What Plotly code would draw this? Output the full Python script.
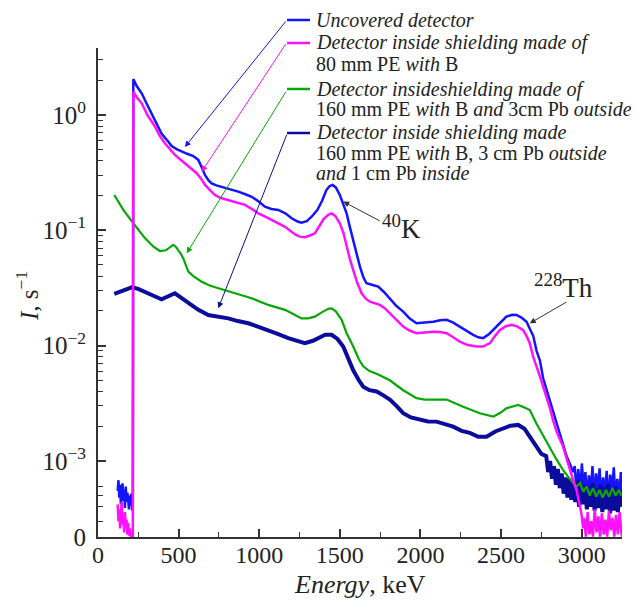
import plotly.graph_objects as go

# ---------------- data ----------------
blue_E = [122, 127, 132, 137, 142, 147, 152, 157, 162, 167, 172, 177, 182, 187, 192, 197, 202, 207, 212, 216,
          219, 240, 271, 306, 354, 394, 430, 457, 487, 519, 553, 591, 622, 644, 664, 686, 705, 734, 767, 819, 870,
          914, 953, 995, 1035, 1076, 1118, 1162, 1201, 1238, 1262, 1295, 1325, 1361, 1390, 1417, 1437, 1455, 1475,
          1500, 1523, 1542, 1561, 1583, 1604, 1625, 1646, 1665, 1703, 1738, 1775, 1810, 1851, 1893, 1932, 1975,
          2027, 2079, 2122, 2162, 2203, 2244, 2283, 2327, 2359, 2389, 2426, 2472, 2502, 2533, 2569, 2596, 2626,
          2658, 2678, 2699, 2720, 2741, 2761, 2781, 2802, 2823, 2844, 2864, 2885, 2906, 2926, 2947,
          2957, 2968, 2979, 2990, 3001, 3012, 3023, 3034, 3045, 3056, 3067, 3078, 3089, 3100, 3111, 3122, 3133,
          3144, 3155, 3166, 3177, 3188, 3199, 3210, 3221, 3232, 3243, 3250]
blue_I = [5.5e-4, 6.8e-4, 4.8e-4, 6.2e-4, 4.2e-4, 5.8e-4, 6.4e-4, 4.5e-4, 5.6e-4, 3.9e-4, 6.0e-4, 4.4e-4, 5.3e-4,
          4.7e-4, 3.8e-4, 5.0e-4, 4.1e-4, 5.2e-4, 3.7e-4, 4.3e-4,
          2.04, 1.78, 1.54, 1.22, 0.905, 0.69, 0.60, 0.538, 0.505, 0.48, 0.46, 0.44, 0.407, 0.35, 0.30, 0.27, 0.255,
          0.245, 0.238, 0.227, 0.216, 0.205, 0.195, 0.178, 0.160, 0.153, 0.150, 0.140, 0.127, 0.119, 0.116, 0.120,
          0.131, 0.150, 0.180, 0.224, 0.242, 0.247, 0.235, 0.202, 0.168, 0.140, 0.108, 0.082, 0.062, 0.048, 0.039,
          0.0347, 0.0335, 0.0324, 0.029, 0.0257, 0.022, 0.0197, 0.0172, 0.0156, 0.0158, 0.0161, 0.0166, 0.0167,
          0.0158, 0.0146, 0.0134, 0.0124, 0.0118, 0.0116, 0.0126, 0.0146, 0.0162, 0.0178, 0.0185, 0.0184, 0.0175,
          0.0161, 0.0140, 0.0122, 0.0090, 0.0074, 0.0052, 0.0042, 0.0034, 0.0027, 0.0021, 0.0017, 0.00135, 0.0011,
          9.5e-4, 8.0e-4,
          9.0e-4, 5.5e-4, 8.5e-4, 5.0e-4, 9.5e-4, 5.8e-4, 8.0e-4, 4.8e-4, 7.5e-4, 5.3e-4, 9.0e-4, 4.6e-4, 7.8e-4,
          5.6e-4, 8.6e-4, 4.5e-4, 7.2e-4, 5.0e-4, 8.2e-4, 4.4e-4, 7.6e-4, 5.4e-4, 8.8e-4, 4.6e-4, 7.0e-4, 4.9e-4,
          8.0e-4, 5.2e-4]

mag_E = [122, 127, 132, 137, 142, 147, 152, 157, 162, 167, 172, 177, 182, 187, 192, 197, 202, 207, 212, 216,
         219, 240, 271, 306, 354, 382, 415, 449, 477, 520, 560, 591, 612, 639, 664, 696, 725, 762, 808, 857, 912,
         953, 994, 1038, 1077, 1119, 1160, 1200, 1228, 1252, 1285, 1314, 1345, 1377, 1399, 1428, 1449, 1471, 1500,
         1523, 1542, 1561, 1583, 1608, 1635, 1661, 1686, 1713, 1748, 1780, 1810, 1851, 1893, 1932, 1975, 2027,
         2079, 2122, 2162, 2203, 2244, 2293, 2348, 2388, 2431, 2464, 2492, 2530, 2565, 2602, 2637, 2659, 2678,
         2699, 2721, 2741, 2761, 2781, 2802, 2822, 2844, 2864, 2885, 2906, 2926, 2947, 2968, 2983, 2998, 3009,
         3015, 3026, 3037, 3048, 3059, 3070, 3081, 3092, 3103, 3114, 3125, 3136, 3147, 3158, 3169, 3180, 3191,
         3202, 3213, 3224, 3235, 3246, 3250]
mag_I = [4.2e-4, 3.0e-4, 3.8e-4, 2.6e-4, 3.5e-4, 4.4e-4, 2.8e-4, 3.3e-4, 2.4e-4, 3.6e-4, 2.7e-4, 3.1e-4, 2.3e-4,
         2.9e-4, 2.25e-4, 2.6e-4, 2.2e-4, 2.4e-4, 2.2e-4, 2.2e-4,
         1.59, 1.42, 1.26, 1.00, 0.79, 0.66, 0.568, 0.50, 0.45, 0.40, 0.356, 0.33, 0.312, 0.28, 0.247, 0.222, 0.202,
         0.19, 0.183, 0.175, 0.166, 0.153, 0.140, 0.131, 0.123, 0.115, 0.107, 0.097, 0.091, 0.088, 0.087, 0.090,
         0.094, 0.111, 0.125, 0.136, 0.140, 0.133, 0.115, 0.094, 0.072, 0.057, 0.045, 0.035, 0.0284, 0.0255, 0.024,
         0.0232, 0.0225, 0.021, 0.019, 0.0165, 0.0146, 0.0135, 0.0128, 0.0130, 0.0132, 0.0131, 0.0128, 0.0118,
         0.0108, 0.0101, 0.0098, 0.0098, 0.0105, 0.0122, 0.0136, 0.0147, 0.0151, 0.0146, 0.0136, 0.0120, 0.0105,
         0.0080, 0.0066, 0.0054, 0.0044, 0.0036, 0.0029, 0.00226, 0.0018, 0.00155, 0.00133, 0.00105, 8.3e-4,
         6.8e-4, 5.6e-4, 4.5e-4, 3.5e-4, 2.6e-4,
         3.2e-4, 2.2e-4, 3.6e-4, 2.3e-4, 3.0e-4, 2.2e-4, 3.8e-4, 2.4e-4, 3.3e-4, 2.2e-4, 3.5e-4, 2.3e-4, 3.1e-4,
         2.2e-4, 3.7e-4, 2.5e-4, 3.2e-4, 2.2e-4, 3.4e-4, 2.3e-4, 3.6e-4, 2.4e-4, 2.2e-4]

green_E = [101, 157, 219, 292, 344, 384, 420, 449, 467, 482, 498, 515, 529, 544, 560, 591, 643, 696, 746, 800,
           850, 953, 1056, 1160, 1219, 1262, 1304, 1345, 1390, 1428, 1449, 1475, 1511, 1542, 1583, 1618, 1645,
           1684, 1728, 1810, 1893, 1975, 2027, 2079, 2162, 2265, 2368, 2451, 2493, 2533, 2606, 2645, 2678, 2720,
           2741, 2770, 2802, 2840, 2885, 2925, 2968, 2990, 3010, 3030, 3050, 3070, 3090, 3110, 3130, 3150, 3170,
           3190, 3210, 3230, 3245]
green_I = [0.202, 0.150, 0.115, 0.085, 0.072, 0.066, 0.067, 0.072, 0.0746, 0.072, 0.0675, 0.062, 0.057, 0.050,
           0.0437, 0.040, 0.0358, 0.033, 0.0314, 0.030, 0.0284, 0.0257, 0.0225, 0.0204, 0.0185, 0.0172, 0.0172,
           0.0178, 0.0195, 0.0208, 0.021, 0.0198, 0.0167, 0.0128, 0.0098, 0.0076, 0.0066, 0.0060, 0.0057, 0.0050,
           0.0041, 0.0035, 0.0034, 0.0034, 0.0034, 0.00295, 0.00259, 0.00242, 0.0026, 0.00286, 0.00305, 0.0029,
           0.00276, 0.0021, 0.00186, 0.0016, 0.0013, 0.00105, 8.3e-4, 7.0e-4, 6.0e-4, 6.4e-4, 5.4e-4, 6.0e-4,
           5.0e-4, 5.8e-4, 4.9e-4, 5.6e-4, 4.8e-4, 5.6e-4, 4.9e-4, 5.8e-4, 5.0e-4, 5.6e-4, 5.0e-4]

navy_E = [101, 154, 209, 249, 292, 344, 394, 430, 477, 515, 560, 620, 684, 743, 808, 867, 932, 991, 1056, 1114,
          1180, 1238, 1283, 1333, 1377, 1409, 1449, 1485, 1521, 1551, 1583, 1618, 1645, 1684, 1728, 1770, 1810,
          1851, 1893, 1941, 1996, 2046, 2100, 2150, 2203, 2255, 2306, 2359, 2410, 2464, 2512, 2559, 2606, 2645,
          2678, 2720, 2750,
          2780, 2792, 2804, 2816, 2828, 2840, 2852, 2864, 2876, 2888, 2900, 2912, 2924, 2936, 2948, 2960, 2972,
          2984, 2996, 3008, 3020, 3032, 3044, 3056, 3068, 3080, 3092, 3104, 3116, 3128, 3140, 3152, 3164, 3176,
          3188, 3200, 3212, 3224, 3236, 3248]
navy_I = [0.028, 0.030, 0.032, 0.031, 0.0294, 0.027, 0.0252, 0.0265, 0.0284, 0.026, 0.0233, 0.0205, 0.0184,
          0.0178, 0.0172, 0.0163, 0.0156, 0.0146, 0.0136, 0.0126, 0.0116, 0.0109, 0.0105, 0.0110, 0.0118, 0.0124,
          0.0124, 0.0114, 0.0098, 0.0078, 0.0061, 0.0050, 0.0044, 0.0041, 0.0040, 0.0037, 0.0034, 0.0030, 0.00259,
          0.00238, 0.00226, 0.0022, 0.00219, 0.0021, 0.00198, 0.00182, 0.00175, 0.00162, 0.00162, 0.0018, 0.00192,
          0.00202, 0.00205, 0.0019, 0.00162, 0.0013, 0.00115,
          1.1e-3, 8.0e-4, 1.0e-3, 7.0e-4, 9.0e-4, 6.2e-4, 8.5e-4, 5.8e-4, 7.8e-4, 5.2e-4, 7.2e-4, 4.8e-4, 7.0e-4,
          4.6e-4, 6.6e-4, 4.4e-4, 6.8e-4, 4.0e-4, 6.4e-4, 4.2e-4, 6.2e-4, 3.8e-4, 6.0e-4, 4.0e-4, 6.4e-4, 3.7e-4,
          5.8e-4, 3.9e-4, 6.2e-4, 3.6e-4, 5.9e-4, 3.8e-4, 6.3e-4, 3.5e-4, 5.7e-4, 3.7e-4, 6.0e-4, 3.6e-4, 5.6e-4,
          4.0e-4]

series_names = ["Uncovered detector",
                "Detector inside shielding made of 80 mm PE with B",
                "Detector inside shielding made of 160 mm PE with B and 3 cm Pb outside",
                "Detector inside shielding made 160 mm PE with B, 3 cm Pb outside and 1 cm Pb inside"]

y_tickvals = [2.19e-4, 1e-3, 1e-2, 1e-1, 1]
y_ticktext = ["0", "10<sup>−3</sup>", "10<sup>−2</sup>", "10<sup>−1</sup>", "10<sup>0</sup>"]
y_minor = [3e-4, 4e-4, 5e-4, 6e-4] + [m * 10.0 ** e for e in (-3, -2, -1) for m in range(2, 10)] + [2, 3]
x_tickvals = [0, 500, 1000, 1500, 2000, 2500, 3000]
x_minor = [250, 750, 1250, 1750, 2250, 2750, 3250]

# ---------------- styling ----------------
BLUE = "#1414ff"
MAG = "#ff10ff"
GREEN = "#06a806"
NAVY = "#0c0c9c"
FONT = "Liberation Serif"
TXT = "#222222"

# the page body adds an 8 px offset; the figure is sized so the plot lands where the reference has it
OFF = 8
W, H = 639 - OFF, 603 - OFF
L, R, T, B = 98 - OFF, 17, 48 - OFF, 66
PW, PH = W - L - R, H - T - B


def pxx(x):
    """page pixel x -> paper fraction"""
    return (x - OFF - L) / PW


def pxy(y):
    """page pixel y -> paper fraction"""
    return (H - B - (y - OFF)) / PH


fig = go.Figure()
fig.add_trace(go.Scatter(x=blue_E, y=blue_I, mode="lines", name=series_names[0],
                         line=dict(color=BLUE, width=2.5)))
fig.add_trace(go.Scatter(x=navy_E, y=navy_I, mode="lines", name=series_names[3],
                         line=dict(color=NAVY, width=4)))
fig.add_trace(go.Scatter(x=green_E, y=green_I, mode="lines", name=series_names[2],
                         line=dict(color=GREEN, width=2.2)))
fig.add_trace(go.Scatter(x=mag_E, y=mag_I, mode="lines", name=series_names[1],
                         line=dict(color=MAG, width=2.5)))

ann = []
shapes = []

# legend (custom, top right)
legend_rows = [
    (20, BLUE, "<i>Uncovered detector</i>"),
    (43, MAG, "<i>Detector inside shielding made of</i>"),
    (64, None, "80 mm PE <i>with</i> B"),
    (89, GREEN, "<i>Detector insideshielding made of</i>"),
    (109, None, "160 mm PE <i>with</i> B <i>and</i> 3cm Pb <i>outside</i>"),
    (133, NAVY, "<i>Detector inside shielding made</i>"),
    (153, None, "160 mm PE <i>with</i> B, 3 cm Pb <i>outside</i>"),
    (173, None, "<i>and</i> 1 cm Pb <i>inside</i>"),
]
for ypix, col, txt in legend_rows:
    ann.append(dict(xref="paper", yref="paper", x=pxx(314), y=pxy(ypix), text=txt, showarrow=False,
                    xanchor="left", yanchor="middle", font=dict(family=FONT, size=20, color=TXT)))
    if col:
        shapes.append(dict(type="line", xref="paper", yref="paper", x0=pxx(287), x1=pxx(310),
                           y0=pxy(ypix), y1=pxy(ypix), line=dict(color=col, width=2.5)))

# arrows from legend lines to curves (tip in data coords, log10 for y; tail offset in px)
arrows = [
    (539, -0.278, BLUE, 102, -127),
    (643, -0.492, MAG, 85, -129),
    (550, -1.20, GREEN, 100, -163),
    (746, -1.677, NAVY, 69, -175),
]
for xe, yl, col, axp, ayp in arrows:
    ann.append(dict(x=xe, y=yl, xref="x", yref="y", text="", showarrow=True, arrowhead=2, arrowsize=1.2,
                    arrowwidth=1, arrowcolor=col, ax=axp, ay=ayp))

# peak labels
ann.append(dict(x=1521, y=-0.752, xref="x", yref="y", text="", showarrow=True, arrowhead=2, arrowsize=1.2,
                arrowwidth=1, arrowcolor="#333", ax=38, ay=20))
ann.append(dict(xref="paper", yref="paper", x=pxx(380), y=pxy(246), text="<sup>40</sup>K", showarrow=False,
                xanchor="left", yanchor="bottom", font=dict(family=FONT, size=27, color=TXT)))
ann.append(dict(x=2678, y=-1.807, xref="x", yref="y", text="", showarrow=True, arrowhead=2, arrowsize=1.2,
                arrowwidth=1, arrowcolor="#333", ax=38, ay=-22))
ann.append(dict(xref="paper", yref="paper", x=pxx(532), y=pxy(305), text="<sup>228</sup>Th", showarrow=False,
                xanchor="left", yanchor="bottom", font=dict(family=FONT, size=27, color=TXT)))

# axis titles
ann.append(dict(xref="paper", yref="paper", x=pxx(360), y=pxy(584), text="<i>Energy</i>, keV", showarrow=False,
                xanchor="center", yanchor="middle", font=dict(family=FONT, size=26, color=TXT)))
ann.append(dict(xref="paper", yref="paper", x=pxx(27), y=pxy(296), text="<i>I</i>, s<sup>−1</sup>",
                showarrow=False, textangle=-90, xanchor="center", yanchor="middle",
                font=dict(family=FONT, size=25, color=TXT)))

fig.update_layout(
    width=W, height=H,
    margin=dict(l=L, r=R, t=T, b=B, pad=0),
    plot_bgcolor="white", paper_bgcolor="white",
    showlegend=False,
    font=dict(family=FONT, color=TXT),
    annotations=ann, shapes=shapes,
    xaxis=dict(range=[0, 3250], automargin=False, showline=True, linecolor="#333", linewidth=2, showgrid=False,
               zeroline=False, ticks="inside", ticklen=8, tickwidth=1.5, tickcolor="#333",
               tickmode="array", tickvals=x_tickvals, ticktext=[str(v) for v in x_tickvals],
               tickfont=dict(family=FONT, size=24, color=TXT), ticklabelstandoff=-5,
               minor=dict(tickmode="array", tickvals=x_minor, ticks="inside", ticklen=5, tickwidth=1.2,
                          tickcolor="#333")),
    yaxis=dict(type="log", range=[-3.66, 0.58], automargin=False, showline=True, linecolor="#333", linewidth=2,
               showgrid=False, zeroline=False, ticks="inside", ticklen=8, tickwidth=1.5, tickcolor="#333",
               tickmode="array", tickvals=y_tickvals, ticktext=y_ticktext,
               tickfont=dict(family=FONT, size=25, color=TXT), ticklabelstandoff=5,
               minor=dict(tickmode="array", tickvals=y_minor, ticks="inside", ticklen=5, tickwidth=1.2,
                          tickcolor="#333")),
)

fig.write_html("out.html")
